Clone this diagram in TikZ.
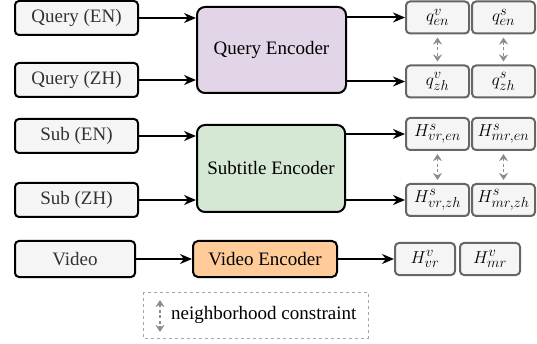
\documentclass[tikz,border=0pt]{standalone}
\usepackage{fontspec}
\setmainfont{Liberation Serif}
\usepackage{tikz}
\usetikzlibrary{arrows.meta}

\definecolor{boxgray}{HTML}{F5F5F5}
\definecolor{edgegray}{HTML}{666666}
\definecolor{querypurple}{HTML}{E1D5E7}
\definecolor{subgreen}{HTML}{D5E8D4}
\definecolor{videoorange}{HTML}{FFCC99}

\tikzset{
  inbox/.style={draw, line width=2pt, rounded corners=4pt, fill=boxgray, text=black!80, minimum width=123pt, minimum height=34pt, inner sep=0pt},
  encbox/.style={draw, line width=2pt, rounded corners=8pt, inner sep=0pt},
  outbox/.style={draw=edgegray, line width=2pt, rounded corners=4pt, fill=boxgray, minimum width=63pt, minimum height=32pt, inner sep=0pt},
  feed/.style={-{Stealth[length=12pt,width=10pt]}, line width=2pt},
  nbarrow/.style={{Stealth[length=7pt,width=9pt]}-{Stealth[length=7pt,width=9pt]}, dash pattern=on 3pt off 2.5pt, draw=black!45, line width=1.4pt}
}

\begin{document}
\begin{tikzpicture}[x=1pt,y=-1pt,font=\fontsize{19}{22}\selectfont]
				\useasboundingbox (0,0) rectangle (537,344);
				
				% inputs
				\node[inbox] (qen) at (76.5,18) {Query (EN)};
				\node[inbox] (qzh) at (76.5,80) {Query (ZH)};
				\node[inbox] (sen) at (76.5,136) {Sub (EN)};
				\node[inbox] (szh) at (76.5,200) {Sub (ZH)};
				\node[inbox, minimum width=120pt, minimum height=36pt] (vid) at (75,259) {Video};
				
				% encoders
				\node[encbox, fill=querypurple, minimum width=149pt, minimum height=86pt] (qenc) at (271.5,50) {Query Encoder};
				\node[encbox, fill=subgreen, minimum width=148pt, minimum height=87pt] (senc) at (271,168.5) {Subtitle Encoder};
				\node[encbox, fill=videoorange, rounded corners=5pt, minimum width=144pt, minimum height=36pt] (venc) at (265,259) {Video Encoder};
				
				% outputs
				\node[outbox] (qven) at (437.5,17.5) {$q^v_{en}$};
				\node[outbox] (qsen) at (503.5,17.5) {$q^s_{en}$};
				\node[outbox] (qvzh) at (437.5,81.5) {$q^v_{zh}$};
				\node[outbox] (qszh) at (503.5,81.5) {$q^s_{zh}$};
				\node[outbox] (hsven) at (437.5,134) {$H^s_{vr,en}$};
				\node[outbox] (hsmen) at (503.5,134) {$H^s_{mr,en}$};
				\node[outbox] (hsvzh) at (437.5,200) {$H^s_{vr,zh}$};
				\node[outbox] (hsmzh) at (503.5,200) {$H^s_{mr,zh}$};
				\node[outbox, minimum width=60pt] (hvv) at (425,259) {$H^v_{vr}$};
				\node[outbox, minimum width=60pt] (hvm) at (490,259) {$H^v_{mr}$};
				
				% arrows into encoders
				\draw[feed] (qen.east) -- (qenc.west |- qen.east);
				\draw[feed] (qzh.east) -- (qenc.west |- qzh.east);
				\draw[feed] (sen.east) -- (senc.west |- sen.east);
				\draw[feed] (szh.east) -- (senc.west |- szh.east);
				\draw[feed] (vid.east) -- (venc.west);
				
				% arrows out of encoders
				\draw[feed] (qenc.east |- qven.west) -- (qven.west);
				\draw[feed] (qenc.east |- qvzh.west) -- (qvzh.west);
				\draw[feed] (senc.east |- hsven.west) -- (hsven.west);
				\draw[feed] (senc.east |- hsvzh.west) -- (hsvzh.west);
				\draw[feed] (venc.east) -- (hvv.west);
				
				% neighborhood constraints
				\draw[nbarrow, shorten <=3pt, shorten >=3pt] (qven.south) -- (qvzh.north);
				\draw[nbarrow, shorten <=3pt, shorten >=3pt] (qsen.south) -- (qszh.north);
				\draw[nbarrow, shorten <=3pt, shorten >=3pt] (hsven.south) -- (hsvzh.north);
				\draw[nbarrow, shorten <=3pt, shorten >=3pt] (hsmen.south) -- (hsmzh.north);
				
				% legend
				\draw[dashed, black!35, line width=0.8pt] (143,292) rectangle (368,338);
				\coordinate (legtop) at (160,300);
				\coordinate (legbot) at (160,332);
				\draw[nbarrow] (legtop) -- (legbot);
				\node[right, inner sep=0pt] (legtext) at (171,315) {neighborhood constraint};
			\end{tikzpicture}
\end{document}
